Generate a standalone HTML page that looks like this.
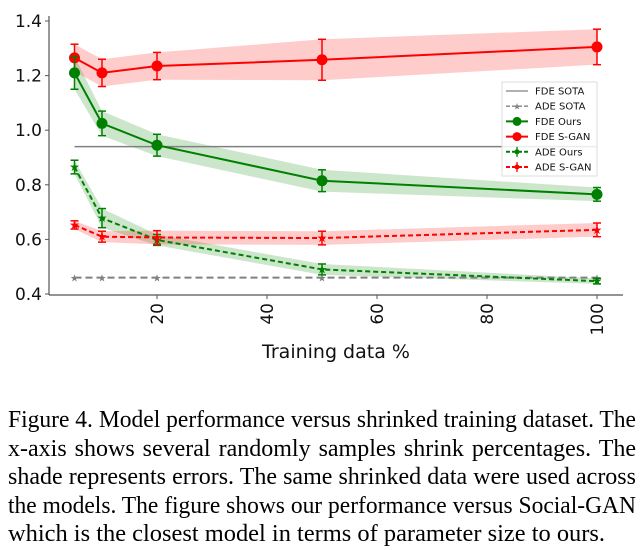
<!DOCTYPE html>
<html><head><meta charset="utf-8"><style>
body{margin:0;width:644px;height:550px;background:#fff;overflow:hidden}
#cap{position:absolute;left:8px;top:406px;width:628px;font-family:"Liberation Serif",serif;font-size:24px;line-height:28.5px;color:#000}
#cap .ln{white-space:nowrap;text-align:justify;text-align-last:justify;transform-origin:0 0;width:628px}
#cap .ln.last{text-align-last:left}
</style></head><body>
<svg id="chart" width="644" height="395" style="position:absolute;left:0;top:0" font-family="DejaVu Sans, Liberation Sans, sans-serif"></svg>
<div id="cap">
<div class="ln">Figure 4. Model performance versus shrinked training dataset. The</div>
<div class="ln">x-axis shows several randomly samples shrink percentages. The</div>
<div class="ln">shade represents errors. The same shrinked data were used across</div>
<div class="ln">the models. The figure shows our performance versus Social-GAN</div>
<div class="ln last"><span id="lastspan">which is the closest model in terms of parameter size to ours.</span></div>
</div>
<script>
const xs=[5,10,20,50,100];
const fdeSgan=[1.265,1.21,1.235,1.258,1.305];
const fdeSganErr=[0.05,0.05,0.05,0.075,0.065];
const fdeOurs=[1.21,1.025,0.945,0.815,0.765];
const fdeOursErr=[0.06,0.045,0.04,0.04,0.025];
const adeOurs=[0.865,0.678,0.598,0.49,0.447];
const adeOursErr=[0.025,0.035,0.02,0.02,0.01];
const adeSgan=[0.653,0.61,0.607,0.605,0.635];
const adeSganErr=[0.015,0.02,0.025,0.025,0.025];
const fdeSota=0.94, adeSota=0.46;
const xTicks=[20,40,60,80,100];
const yTicks=[0.4,0.6,0.8,1.0,1.2,1.4];
const legendLabels=["FDE SOTA","ADE SOTA","FDE Ours","FDE S-GAN","ADE Ours","ADE S-GAN"];
const NS="http://www.w3.org/2000/svg";
const svg=document.getElementById('chart');
const X=v=>47+v*5.5, Y=v=>294-(v-0.4)*273;
function mk(t,a,p){const e=document.createElementNS(NS,t);for(const k in a)e.setAttribute(k,a[k]);(p||svg).appendChild(e);return e;}
function band(vals,errs,col,name){
 let up=xs.map((x,i)=>X(x)+','+Y(vals[i]+errs[i])),lo=xs.map((x,i)=>X(x)+','+Y(vals[i]-errs[i])).reverse();
 const e=mk('polygon',{points:up.concat(lo).join(' '),fill:col,'fill-opacity':0.2});
 
 
}
function series(vals,errs,col,dash,marker,name){
 const e=mk('polyline',{points:xs.map((x,i)=>X(x)+','+Y(vals[i])).join(' '),fill:'none',stroke:col,'stroke-width':2,'stroke-dasharray':dash});
 
 
 xs.forEach((x,i)=>{
  const g=mk('g',{stroke:col,'stroke-width':1.5});
  
  
  const a=Y(vals[i]+errs[i]),b=Y(vals[i]-errs[i]),cx=X(x);
  mk('line',{x1:cx,x2:cx,y1:a,y2:b},g);
  mk('line',{x1:cx-4,x2:cx+4,y1:a,y2:a},g);
  mk('line',{x1:cx-4,x2:cx+4,y1:b,y2:b},g);
  if(marker==='o')mk('circle',{cx:cx,cy:Y(vals[i]),r:5.5,fill:col,stroke:'none'},g);
  else mk('text',{x:cx,y:Y(vals[i])+4,'font-size':12,'text-anchor':'middle',fill:col,stroke:'none'},g).textContent='★';
 });
}
band(fdeSgan,fdeSganErr,'#ff0000','fde-sgan-band');
band(fdeOurs,fdeOursErr,'#008000','fde-ours-band');
band(adeOurs,adeOursErr,'#008000','ade-ours-band');
band(adeSgan,adeSganErr,'#ff0000','ade-sgan-band');
let s=mk('line',{x1:X(5),x2:X(100),y1:Y(fdeSota),y2:Y(fdeSota),stroke:'#808080','stroke-width':1.5});

s=mk('line',{x1:X(5),x2:X(100),y1:Y(adeSota),y2:Y(adeSota),stroke:'#808080','stroke-width':2,'stroke-dasharray':'7,4'});

xs.forEach(x=>{mk('text',{x:X(x),y:Y(adeSota)+4,'font-size':10,'text-anchor':'middle',fill:'#808080'}).textContent='★';});
series(fdeSgan,fdeSganErr,'#ff0000','','o','fde-sgan');
series(fdeOurs,fdeOursErr,'#008000','','o','fde-ours');
series(adeOurs,adeOursErr,'#008000','5,3','*','ade-ours');
series(adeSgan,adeSganErr,'#ff0000','5,3','*','ade-sgan');
s=mk('line',{x1:49,x2:49,y1:16,y2:295,stroke:'#555','stroke-width':1.2});
s=mk('line',{x1:49,x2:623,y1:295,y2:295,stroke:'#555','stroke-width':1.2});
yTicks.forEach(v=>{mk('line',{x1:45,x2:49,y1:Y(v),y2:Y(v),stroke:'#555'});
 const t=mk('text',{x:42,y:Y(v)+6,'font-size':17,'text-anchor':'end',fill:'#111'});t.textContent=v.toFixed(1);
 });
xTicks.forEach(v=>{mk('line',{x1:X(v),x2:X(v),y1:295,y2:299,stroke:'#555'});
 const t=mk('text',{x:0,y:0,'font-size':17,'text-anchor':'end',fill:'#111',transform:`translate(${X(v)+6},303) rotate(-90)`});t.textContent=v;
 });
s=mk('text',{x:336,y:358,'font-size':19,'text-anchor':'middle',fill:'#111'});s.textContent='Training data %';

const lg=mk('g',{});
mk('rect',{x:502,y:82,width:95,height:94,fill:'#fff','fill-opacity':0.85,stroke:'#ddd'},lg);
const lc=['#808080','#808080','#008000','#ff0000','#008000','#ff0000'];
legendLabels.forEach((l,i)=>{const y=91+i*15.2;
 const g=mk('g',{},lg);
 mk('line',{x1:506,x2:528,y1:y,y2:y,stroke:lc[i],'stroke-width':i<2?1.3:2,'stroke-dasharray':(i==1||i>3)?'4,2':''},g);
 if(i==2||i==3)mk('circle',{cx:517,cy:y,r:4.5,fill:lc[i]},g);
 if(i>=4){mk('line',{x1:517,x2:517,y1:y-5,y2:y+5,stroke:lc[i],'stroke-width':1.3},g);mk('circle',{cx:517,cy:y,r:2.5,fill:lc[i]},g);}
 if(i==1)mk('text',{x:517,y:y+3.5,'font-size':9,'text-anchor':'middle',fill:lc[i]},g).textContent='★';
 mk('text',{x:535,y:y+3.5,'font-size':10,fill:'#111'},g).textContent=l;});
document.querySelectorAll('#cap .ln').forEach(d=>{
 const r=document.createRange();r.selectNodeContents(d);const w=r.getBoundingClientRect().width;
 if(w>628){d.style.width=w+'px';d.style.transform='scaleX('+(628/w)+')';}
});
const ls=document.getElementById('lastspan');const lw=ls.getBoundingClientRect().width;
ls.style.display='inline-block';ls.style.transformOrigin='0 0';ls.style.transform='scaleX('+(597/lw)+')';
</script>
</body></html>
